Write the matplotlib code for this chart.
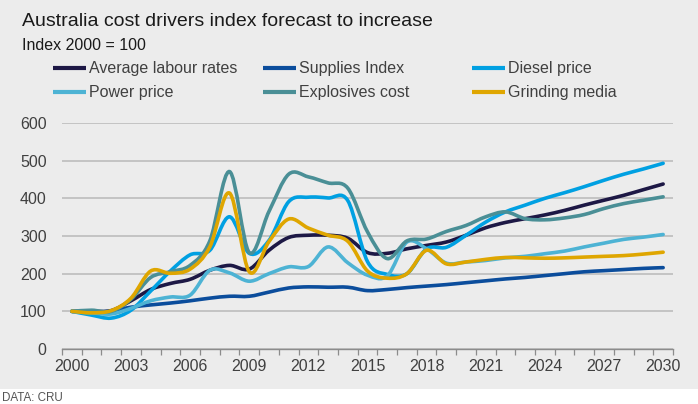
import matplotlib
matplotlib.use("Agg")
import matplotlib.pyplot as plt
from matplotlib.path import Path
from matplotlib.patches import PathPatch, Rectangle
from matplotlib.lines import Line2D
import numpy as np

plt.rcParams['font.family'] = ['Liberation Sans', 'DejaVu Sans']

years = list(range(2000, 2031))
tick_years = list(range(2000, 2031, 3))

labour = [100, 100, 102, 128, 158, 174, 185, 209, 222, 212, 262, 296, 302, 302, 294, 256,
          254, 266, 275, 284, 302, 322, 336, 346, 356, 368, 382, 395, 408, 423, 438]
supplies = [100, 98, 101, 111, 117, 122, 128, 135, 140, 140, 151, 162, 165, 164, 164, 155,
            158, 163, 167, 171, 176, 181, 186, 190, 195, 200, 205, 208, 211, 214, 216]
diesel = [100, 90, 82, 103, 154, 207, 250, 262, 351, 254, 288, 391, 403, 401, 394, 232,
          198, 200, 266, 270, 302, 337, 364, 382, 400, 415, 431, 448, 464, 478, 493]
power = [100, 96, 93, 108, 128, 138, 143, 209, 202, 180, 200, 218, 219, 271, 229, 196,
         194, 284, 266, 228, 231, 235, 242, 246, 253, 260, 271, 281, 291, 297, 304]
explosives = [100, 103, 100, 132, 190, 205, 222, 287, 471, 256, 365, 464, 457, 441, 427, 311,
              240, 287, 292, 312, 328, 351, 364, 346, 343, 348, 357, 373, 386, 395, 404]
grinding = [100, 96, 102, 135, 207, 201, 212, 271, 414, 205, 285, 345, 321, 302, 286, 207,
            188, 200, 262, 226, 231, 238, 243, 242, 241, 242, 244, 246, 248, 252, 257]

names = ["Average labour rates", "Supplies Index", "Diesel price",
         "Power price", "Explosives cost", "Grinding media"]
series = [labour, supplies, diesel, power, explosives, grinding]
colors = ["#1d1845", "#0b4d9c", "#00a0e2", "#4db3d4", "#4a8f96", "#dfa600"]

BG = "#ececec"


def smooth_path(xs, ys):
    # bezier segments through the points (like Excel's smoothed line)
    pts = np.column_stack([xs, ys]).astype(float)
    n = len(pts)
    verts = [pts[0]]
    codes = [Path.MOVETO]
    for i in range(n - 1):
        p0 = pts[i - 1] if i > 0 else pts[i]
        p1 = pts[i]
        p2 = pts[i + 1]
        p3 = pts[i + 2] if i + 2 < n else pts[i + 1]
        c1 = p1 + (p2 - p0) / 6.0
        c2 = p2 - (p3 - p1) / 6.0
        verts += [c1, c2, p2]
        codes += [Path.CURVE4] * 3
    return Path(verts, codes)


fig = plt.figure(figsize=(6.98, 4.04), dpi=100, facecolor=BG)
W, H = 698.0, 404.0

# white strip at the bottom for the source line
fig.patches.append(Rectangle((0, 0), 1, 15 / H, transform=fig.transFigure,
                             facecolor="white", edgecolor="none", zorder=0))

ax = fig.add_axes([62 / W, (H - 349) / H, (673 - 62) / W, (349 - 123) / H])
ax.set_facecolor(BG)

for vals, col in zip(series, colors):
    patch = PathPatch(smooth_path(years, vals), fill=False, edgecolor=col, lw=2.6,
                      capstyle="round", joinstyle="round", zorder=3)
    ax.add_patch(patch)

ax.set_xlim(1999.5, 2030.5)
ax.set_ylim(0, 600)
ax.set_yticks(range(0, 601, 100))
ax.set_xticks(tick_years)
ax.set_xticks(np.arange(1999.5, 2031, 1), minor=True)
ax.grid(axis="y", color="#bdbdbd", lw=1.2)
ax.set_axisbelow(True)
for s in ["top", "right", "left"]:
    ax.spines[s].set_visible(False)
ax.spines["bottom"].set_color("#8c8c8c")
ax.spines["bottom"].set_linewidth(1.0)
ax.tick_params(axis="x", which="major", length=0, pad=7, labelsize=11.5, labelcolor="#404040")
ax.tick_params(axis="x", which="minor", length=4, width=0.9, color="#8c8c8c")
ax.tick_params(axis="y", length=0, pad=11, labelsize=11.5, labelcolor="#404040")

fig.text(22 / W, 1 - 22 / H, "Australia cost drivers index forecast to increase",
         fontsize=14, color="#1a1a1a", va="center", ha="left")
fig.text(22 / W, 1 - 46 / H, "Index 2000 = 100", fontsize=11.5, color="#1a1a1a",
         va="center", ha="left")

# legend, two rows of three
col_x = [53, 263, 472]
row_y = [68, 92]
for i, (name, col) in enumerate(zip(names, colors)):
    x0 = col_x[i % 3]
    y0 = 1 - row_y[i // 3] / H
    fig.lines.append(Line2D([x0 / W, (x0 + 33) / W], [y0, y0], transform=fig.transFigure,
                            color=col, lw=3, solid_capstyle="butt"))
    fig.text((x0 + 36) / W, y0, name, fontsize=11.5, color="#404040",
             va="center", ha="left")

fig.text(2 / W, 6 / H, "DATA: CRU", fontsize=8.4, color="#555555", va="center", ha="left")

fig.savefig("out.png", dpi=100, facecolor=BG)
